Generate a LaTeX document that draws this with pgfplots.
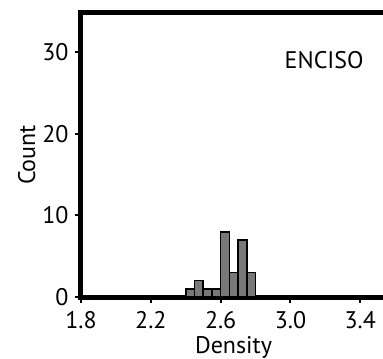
\documentclass[border=0pt]{standalone}
\usepackage{pgfplots}
\pgfplotsset{compat=1.18}
\usepackage{fontspec}
\setmainfont{PT Sans}
\definecolor{barfill}{RGB}{120,120,120}
\begin{document}
\begin{tikzpicture}
\newcommand{\bigfont}{\fontsize{24bp}{28bp}\selectfont}
\begin{axis}[
  scale only axis,
  width=302bp, height=284bp,
  xmin=1.8, xmax=3.53,
  ymin=0, ymax=34.8,
  axis lines=left,
  axis line style={-, line width=5bp, line cap=rect},
  xtick={1.8,2.2,2.6,3.0,3.4},
  ytick={0,10,20,30},
  xticklabel style={/pgf/number format/fixed, /pgf/number format/fixed zerofill, /pgf/number format/precision=1, yshift=-5bp},
  /pgf/number format/assume math mode=true,
  tick align=outside,
  major tick length=6bp,
  tick style={line width=2bp, black},
  every tick label/.append style={font=\bigfont},
  yticklabel style={xshift=-3bp},
  label style={font=\bigfont},
  xlabel={Density},
  ylabel={Count},
  xlabel style={at={(axis description cs:0.505,-0.178)}, anchor=center, inner sep=0pt},
  ylabel style={at={(axis description cs:-0.18,0.5)}, anchor=center},
  clip=false,
]
\addplot[ybar interval, fill=barfill, draw=black, line width=1.6bp]
  coordinates {(2.4,1)(2.45,2)(2.5,1)(2.55,1)(2.6,8)(2.65,3)(2.7,7)(2.75,3)(2.8,0)};
\draw[line width=5bp, line cap=rect] (rel axis cs:0,1) -- (rel axis cs:1,1);
\node[font=\bigfont] at (axis cs:3.193,29.0) {ENCISO};
\end{axis}
\pgfresetboundingbox
\useasboundingbox (-81bp,-62bp) rectangle (302bp,297bp);
\end{tikzpicture}
\end{document}
